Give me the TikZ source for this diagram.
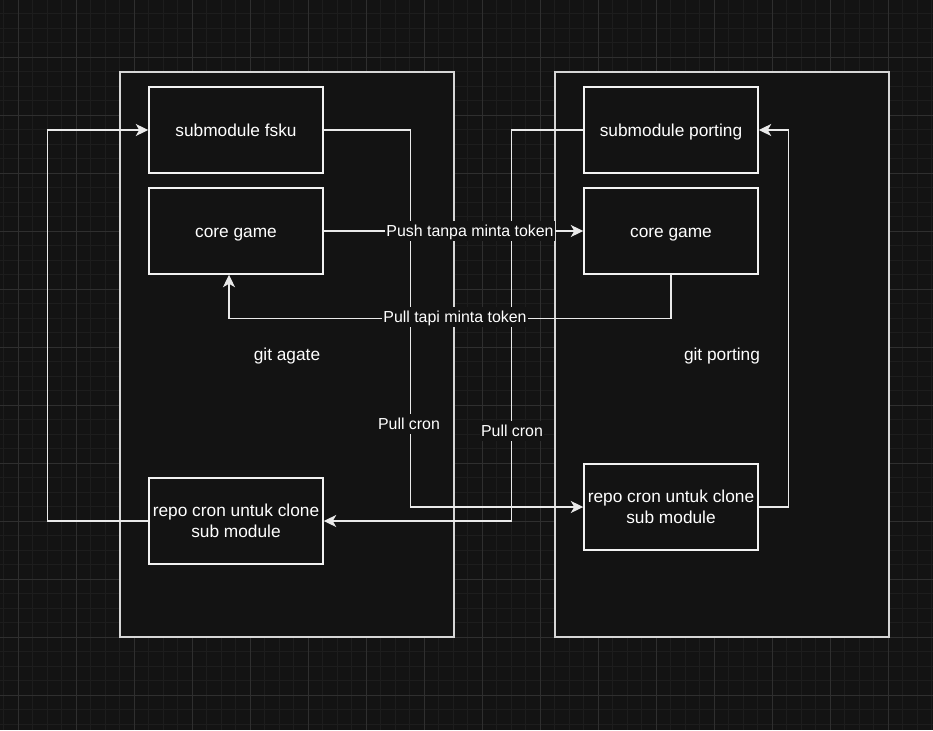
\documentclass[tikz,border=0pt]{standalone}
\usepackage{fontspec}
\setmainfont{Liberation Sans}
\usetikzlibrary{arrows.meta}
\definecolor{bg}{HTML}{131313}
\definecolor{gridminor}{HTML}{1D1D1D}
\definecolor{gridmajor}{HTML}{2F2F2F}
\definecolor{boxline}{HTML}{F2F2F2}
\definecolor{contline}{HTML}{D6D6D6}
\definecolor{edgecol}{HTML}{EAEAEA}
\begin{document}
\begin{tikzpicture}[x=1pt,y=-1pt,
  container/.style={draw=contline,line width=1.9pt,fill=bg,minimum width=334pt,minimum height=565pt,inner sep=0pt,text=white,font=\fontsize{17.3}{21}\selectfont,text height=12.6pt,text depth=0pt},
  box/.style={draw=boxline,line width=1.45pt,fill=bg,minimum width=174pt,minimum height=86pt,inner sep=0pt,text=white,align=center,font=\fontsize{17.3}{21}\selectfont},
  boxone/.style={box,text height=12.6pt,text depth=0pt},
  conn/.style={draw=edgecol,line width=1.45pt,-{Stealth[length=12.5pt,width=12pt,inset=3.5pt]}},
  lbl/.style={fill=bg,inner sep=1pt,text=white,font=\fontsize{15.9}{19}\selectfont,text height=15pt,text depth=3.4pt},
  minorline/.style={draw=gridminor,line width=0.9pt},
  majorline/.style={draw=gridmajor,line width=0.9pt}
]
\fill[bg] (0,0) rectangle (933,730);
\useasboundingbox (0,0) rectangle (933,730);
% grid
\foreach \i in {0,...,64} {\draw[minorline] ({3.8+14.5*\i},0) -- ({3.8+14.5*\i},730);}
\foreach \i in {0,...,51} {\draw[minorline] (0,{-0.7+14.5*\i}) -- (933,{-0.7+14.5*\i});}
\foreach \i in {0,...,16} {\draw[majorline] ({18.3+58*\i},0) -- ({18.3+58*\i},730);}
\foreach \i in {0,...,13} {\draw[majorline] (0,{-0.7+58*\i}) -- (933,{-0.7+58*\i});}

% containers
\node[container] (agate) at (287,354.5) {git agate};
\node[container] (porting) at (722,354.5) {git porting};

% boxes
\node[boxone] (fsku) at (236,130) {submodule fsku};
\node[boxone] (coreL) at (236,231) {core game};
\node[box] (repoL) at (236,521) {repo cron untuk clone\\sub module};
\node[boxone] (subp) at (671,130) {submodule porting};
\node[boxone] (coreR) at (671,231) {core game};
\node[box] (repoR) at (671,507) {repo cron untuk clone\\sub module};

% connectors
\draw[conn] (repoL.west) -- ++(-101,0) |- (fsku.west);
\draw[conn] (fsku.east) -- ++(87,0) |- (repoR.west);
\draw[conn] (subp.west) -- ++(-72,0) |- (repoL.east);
\draw[conn] (repoR.east) -- ++(30,0) |- (subp.east);
\draw[conn] (coreL.east) -- (coreR.west);
\coordinate (pullend) at ([xshift=-7pt]coreL.south);
\draw[conn] (coreR.south) -- ++(0,44) -| (pullend);

% labels
\node[lbl] (l1) at (470,231) {Push tanpa minta token};
\node[lbl] (l2) at (455,317) {Pull tapi minta token};
\node[lbl] (l3) at (409,424) {Pull cron};
\node[lbl] (l4) at (512,431) {Pull cron};
\end{tikzpicture}
\end{document}
